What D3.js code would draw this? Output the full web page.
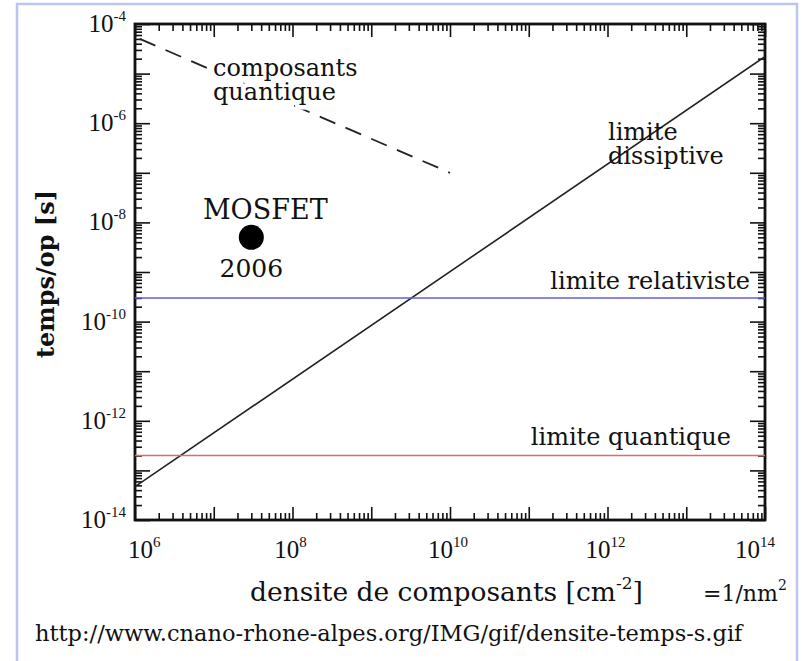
<!DOCTYPE html>
<html>
<head>
<meta charset="utf-8">
<script src="https://cdn.jsdelivr.net/npm/d3@7"></script>
<style>
  html, body { margin: 0; padding: 0; background: #ffffff; }
  svg { display: block; }
</style>
</head>
<body>
<svg id="chart" width="802" height="661"></svg>
<script>
// ---- data ----
const xDomain = [1e6, 1e14];
const yDomain = [1e-14, 1e-4];
const xLabelExps = [6, 8, 10, 12, 14];
const yLabelExps = [-4, -6, -8, -10, -12, -14];
const dissipativeLimit = [[1e6, 4.7e-14], [1e14, 2.2e-5]];
const quantumComponents = [[1.15e6, 5e-5], [1e10, 1e-7]];
const relativisticLimit = 3e-10;
const quantumLimit = 2e-13;
const mosfet2006 = [3e7, 5e-9];

// ---- layout ----
const SERIF = "'DejaVu Serif', serif";
const TIMES = "'Liberation Serif', 'Times New Roman', 'DejaVu Serif', serif";
const svg = d3.select("#chart");
const plot = { left: 135, right: 765, top: 24, bottom: 520 };

svg.append("rect")
  .attr("x", 17).attr("y", 4).attr("width", 780).attr("height", 700)
  .attr("fill", "none").attr("stroke", "#bcc4f2").attr("stroke-width", 2.5);

const x = d3.scaleLog().domain(xDomain).range([plot.left, plot.right]);
const y = d3.scaleLog().domain(yDomain).range([plot.bottom, plot.top]);

function decadeTicks(lo, hi) {
  const maj = [], min = [];
  for (let e = Math.round(Math.log10(lo)); e <= Math.round(Math.log10(hi)); e++) {
    maj.push(Math.pow(10, e));
    if (Math.pow(10, e) < hi) for (let k = 2; k <= 9; k++) min.push(k * Math.pow(10, e));
  }
  return { maj, min };
}
const xt = decadeTicks(xDomain[0], xDomain[1]);
const yt = decadeTicks(yDomain[0], yDomain[1]);

function drawAxis(gen, tx, ty, vals, size) {
  const g = svg.append("g").attr("transform", `translate(${tx},${ty})`)
    .call(gen.tickValues(vals).tickSizeInner(-size).tickSizeOuter(0).tickFormat(""));
  g.select(".domain").remove();
  g.selectAll(".tick line").attr("stroke", "#111").attr("stroke-width", 1.6);
  return g;
}
drawAxis(d3.axisBottom(x), 0, plot.bottom, xt.maj, 13);
drawAxis(d3.axisBottom(x), 0, plot.bottom, xt.min, 7);
drawAxis(d3.axisTop(x), 0, plot.top, xt.maj, 13);
drawAxis(d3.axisTop(x), 0, plot.top, xt.min, 7);
drawAxis(d3.axisLeft(y), plot.left, 0, yt.maj, 15);
drawAxis(d3.axisLeft(y), plot.left, 0, yt.min, 7);
drawAxis(d3.axisRight(y), plot.right, 0, yt.maj, 15);
drawAxis(d3.axisRight(y), plot.right, 0, yt.min, 7);

svg.append("rect")
  .attr("x", plot.left).attr("y", plot.top)
  .attr("width", plot.right - plot.left).attr("height", plot.bottom - plot.top)
  .attr("fill", "none").attr("stroke", "#111").attr("stroke-width", 2.8);

// tick labels
function powLabel(sel, exp) {
  sel.append("tspan").text("10");
  sel.append("tspan").attr("dy", -11).attr("font-size", 15).text(String(exp));
}
xLabelExps.forEach((e, i) => {
  const first = i === 0, last = i === xLabelExps.length - 1;
  const tx = x(Math.pow(10, e));
  const t = svg.append("text")
    .attr("x", first ? tx - 7 : last ? tx + 10 : tx - 2).attr("y", 558)
    .attr("text-anchor", first ? "start" : last ? "end" : "middle")
    .attr("font-size", 25).attr("font-family", TIMES).attr("fill", "#111");
  powLabel(t, e);
});
yLabelExps.forEach(e => {
  const t = svg.append("text").attr("x", 126).attr("y", y(Math.pow(10, e)) + 8)
    .attr("text-anchor", "end").attr("font-size", 25)
    .attr("font-family", TIMES).attr("fill", "#111");
  powLabel(t, e);
});

// lines
const line = d3.line().x(d => x(d[0])).y(d => y(d[1]));
svg.append("path").datum(dissipativeLimit).attr("d", line)
  .attr("fill", "none").attr("stroke", "#222").attr("stroke-width", 1.6);
svg.append("path").datum(quantumComponents).attr("d", line)
  .attr("fill", "none").attr("stroke", "#222").attr("stroke-width", 1.8)
  .attr("stroke-dasharray", "17,11");
svg.append("line")
  .attr("x1", plot.left).attr("x2", plot.right)
  .attr("y1", y(relativisticLimit)).attr("y2", y(relativisticLimit))
  .attr("stroke", "#5f5fd6").attr("stroke-width", 1.6);
svg.append("line")
  .attr("x1", plot.left).attr("x2", plot.right)
  .attr("y1", y(quantumLimit)).attr("y2", y(quantumLimit))
  .attr("stroke", "#e06a6a").attr("stroke-width", 1.6);

svg.append("circle")
  .attr("cx", x(mosfet2006[0])).attr("cy", y(mosfet2006[1])).attr("r", 12.5)
  .attr("fill", "#000");

// annotations
const ann = (lines, ax, ay, anchor, size, halo) => {
  const t = svg.append("text")
    .attr("x", ax).attr("y", ay).attr("text-anchor", anchor || "start")
    .attr("font-family", SERIF).attr("fill", "#111")
    .attr("font-size", size || 24);
  [].concat(lines).forEach((s, i) => {
    t.append("tspan").attr("x", ax).attr("dy", i === 0 ? 0 : 23.5).text(s);
  });
  if (halo) t.attr("stroke", "#fff").attr("stroke-width", 9)
    .attr("stroke-linejoin", "round").attr("paint-order", "stroke");
  return t;
};
ann(["composants", "quantique"], 213, 76, "start", 24, true);
ann(["limite", "dissiptive"], 608, 140);
ann("MOSFET", x(mosfet2006[0]) + 14, 219, "middle", 27);
ann("2006", x(mosfet2006[0]), 277, "middle", 25);
ann("limite relativiste", 750, 289, "end");
ann("limite quantique", 731, 445, "end");

// axis titles
svg.append("text")
  .attr("transform", `translate(54,274) rotate(-90)`)
  .attr("text-anchor", "middle").attr("font-size", 24).attr("font-weight", "bold")
  .attr("font-family", SERIF).attr("fill", "#111")
  .text("temps/op [s]");

const xt2 = svg.append("text").attr("x", 250).attr("y", 601).attr("font-size", 26.5)
  .attr("font-family", SERIF).attr("fill", "#111");
xt2.append("tspan").text("densite de composants [cm");
xt2.append("tspan").attr("dy", -12).attr("font-size", 17).text("-2");
xt2.append("tspan").attr("dy", 12).text("]");

const nm = svg.append("text").attr("x", 703).attr("y", 601).attr("font-size", 22)
  .attr("font-family", SERIF).attr("fill", "#111");
nm.append("tspan").text("=1/nm");
nm.append("tspan").attr("dy", -11).attr("font-size", 14).text("2");

svg.append("text").attr("x", 35).attr("y", 641).attr("font-size", 22.5)
  .attr("font-family", SERIF).attr("fill", "#111")
  .text("http://www.cnano-rhone-alpes.org/IMG/gif/densite-temps-s.gif");
</script>
</body>
</html>
